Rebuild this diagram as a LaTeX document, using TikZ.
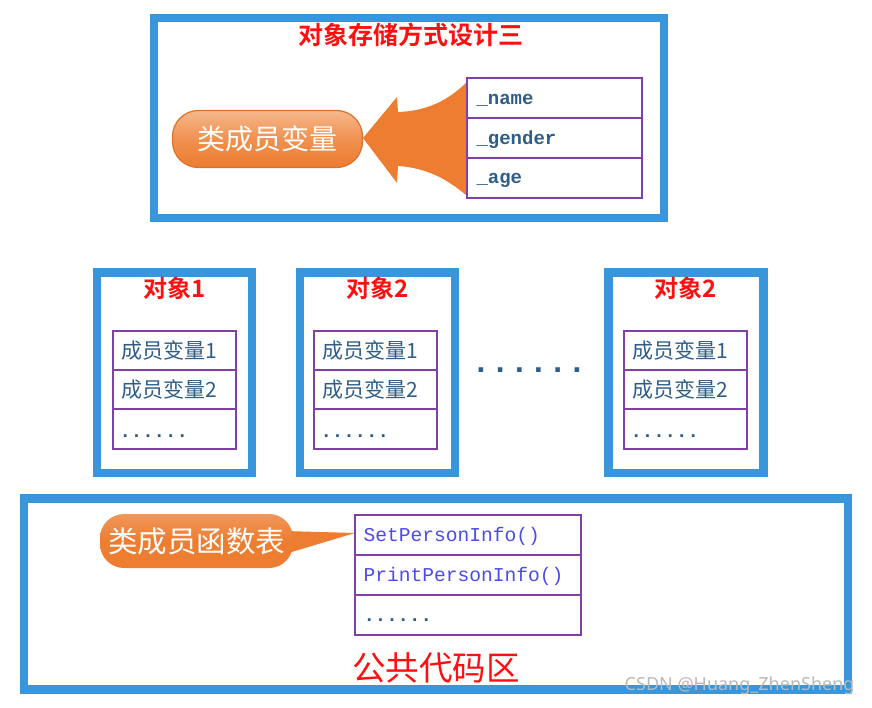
\documentclass[tikz,border=0pt]{standalone}
\usepackage{fontspec}
\newfontfamily\cjk{Noto Sans CJK SC}
\newfontfamily\cjkb{Noto Sans CJK SC Bold}
\newfontfamily\monof{Liberation Mono}
\newfontfamily\wmf{Noto Sans}
\definecolor{frameblue}{HTML}{3A96DA}
\definecolor{cellpurple}{HTML}{8040A8}
\definecolor{textblue}{HTML}{2E5E88}
\definecolor{funcblue}{HTML}{4B4BEA}
\definecolor{orangeA}{HTML}{ED7D31}
\definecolor{orangeL}{HTML}{F6B88C}
\definecolor{orangeD}{HTML}{DD7128}
\definecolor{titlered}{HTML}{FF1010}
\begin{document}
\begin{tikzpicture}[x=1pt,y=-1pt,
  frame/.style={draw=frameblue,line width=8.5pt},
  cell/.style={draw=cellpurple,line width=1.6pt,anchor=north west,minimum height=40pt,inner xsep=8pt,align=left,inner ysep=0pt},
  vartext/.style={font=\monof\bfseries\fontsize{19}{19}\selectfont,text=textblue},
  memtext/.style={font=\cjk\fontsize{21}{21}\selectfont,text=textblue},
  functext/.style={font=\monof\fontsize{19.6}{19.6}\selectfont,text=funcblue},
  objtitle/.style={font=\cjkb\fontsize{24}{24}\selectfont,text=titlered},
]
\useasboundingbox (0,0) rectangle (872,707);
\fill[white] (0,0) rectangle (872,707);

% ---------- top frame ----------
\draw[frame] (154,18) rectangle (664,218);
\node[objtitle,font=\cjkb\fontsize{25}{25}\selectfont] (title) at (411,35) {对象存储方式设计三};

% big orange arrow
\fill[orangeA] (363,138) -- (397,97) -- (398,112)
  .. controls (428,111) and (448,100) .. (466,83) -- (466,195)
  .. controls (448,180) and (428,168) .. (398,166) -- (397,183) -- cycle;

% pill
\node[draw=orangeD,line width=1.2pt,rounded corners=26pt,minimum width=190pt,minimum height=57pt,
  top color=orangeL,bottom color=orangeA,middle color=orangeA!85!white,
  font=\cjk\fontsize{28}{28}\selectfont,text=white] (pill) at (267.5,139) {类成员变量};

\node[cell,text width=159pt] (vname) at (466,77) {};
\node[cell,text width=159pt] (vgender) at (466,117) {};
\node[cell,text width=159pt] (vage) at (466,157) {};
\node[vartext,anchor=west] (tname) at (473,100) {\_name};
\node[vartext,anchor=west] (tgender) at (473,140) {\_gender};
\node[vartext,anchor=west] (tage) at (473,180) {\_age};

% ---------- objects ----------
\foreach \i/\fx/\tx/\lbl in {1/97/112/对象1, 2/300/313/对象2, 3/608.5/623/对象2}{
  \draw[frame] (\fx,272.5) rectangle ({\fx+155},473);
  \node[objtitle] (otitle\i) at ({\fx+77.5},288) {\lbl};
  \node[cell,text width=107pt,minimum height=39pt] (oa\i) at (\tx,330) {};
  \node[cell,text width=107pt,minimum height=39pt] (ob\i) at (\tx,369) {};
  \node[cell,text width=107pt,minimum height=40pt] (oc\i) at (\tx,408) {};
  \node[memtext,anchor=west] (ta\i) at ({\tx+6},350) {成员变量1};
  \node[memtext,anchor=west] (tb\i) at ({\tx+6},389) {成员变量2};
  \node[vartext,anchor=west] (tc\i) at ({\tx+4},436) {......};
}
\node[font=\monof\bfseries\fontsize{32}{32}\selectfont,text=textblue] (middots) at (529,370) {......};

% ---------- bottom frame ----------
\draw[frame] (24,498.5) rectangle (848,689.5);

% callout
\fill[orangeA] (285,531) -- (355,533) -- (285,554) -- cycle;
\node[rounded corners=24pt,minimum width=193pt,minimum height=54pt,
  top color=orangeA!80!white,bottom color=orangeA,middle color=orangeA,
  font=\cjk\fontsize{29.5}{29.5}\selectfont,text=white] (callout) at (196.5,541) {类成员函数表};

\node[cell,text width=210pt] (fa) at (354,514) {};
\node[cell,text width=210pt] (fb) at (354,554) {};
\node[cell,text width=210pt] (fc) at (354,594) {};
\node[functext,anchor=west] (tfa) at (360,536) {SetPersonInfo()};
\node[functext,anchor=west] (tfb) at (360,576) {PrintPersonInfo()};
\node[functext,font=\monof\bfseries\fontsize{19}{19}\selectfont,text=textblue,anchor=west] (tfc) at (360,620) {......};

\node[font=\cjk\fontsize{33.5}{33.5}\selectfont,text=titlered] (pub) at (436,668) {公共代码区};

% watermark
\node[font=\wmf\fontsize{18}{18}\selectfont,text=gray!55,anchor=east] (wm) at (858,686) {CSDN @Huang\_ZhenSheng};
\end{tikzpicture}
\end{document}
